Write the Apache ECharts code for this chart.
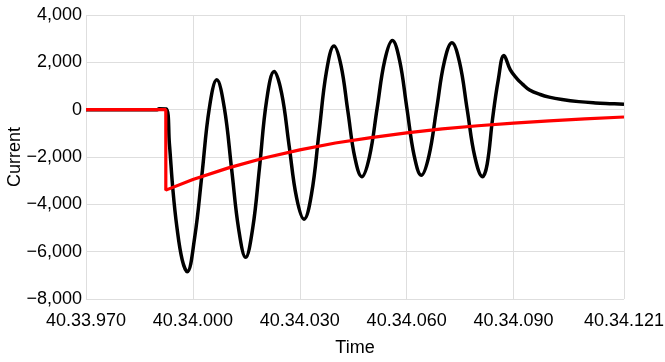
<!DOCTYPE html>
<html>
<head>
<meta charset="utf-8">
<script src="https://cdn.jsdelivr.net/npm/echarts@6/dist/echarts.min.js"></script>
<style>
html,body{margin:0;padding:0;background:#fff;}
#chart{width:665px;height:362px;}
</style>
</head>
<body>
<div id="chart"></div>
<script>
// Time in ms past 40.33.000 (970 -> 40.33.970, 1000 -> 40.34.000)
const timeTicks = [970, 1000, 1030, 1060, 1090, 1121];
const timeTickLabels = ['40.33.970', '40.34.000', '40.34.030', '40.34.060', '40.34.090', '40.34.121'];

const blackTime = [970, 990, 990.5, 992.5, 993.4, 994.4, 995.5, 997.0, 998.4, 1000.5, 1002.5, 1004.6, 1006.7,
  1008.8, 1010.9, 1012.85, 1014.8, 1016.8, 1018.7, 1020.7, 1022.8, 1024.9, 1027.0, 1029.1, 1031.2,
  1033.3, 1035.4, 1037.5, 1039.6, 1041.55, 1043.5, 1045.45, 1047.4, 1049.55, 1051.7, 1053.85, 1056.0,
  1058.0, 1060.05, 1062.1, 1064.1, 1066.25, 1068.4, 1070.55, 1072.7, 1074.85, 1077.0, 1079.15, 1081.3,
  1082.6, 1084.1, 1085.7, 1087.3, 1089.1, 1091.0, 1092.5, 1094.5, 1097.5, 1100, 1103.6, 1108.3, 1113, 1117, 1121];
const blackCurrent = [0, 0, 40, 30, -1420, -3400, -4950, -6350, -6850, -5400, -2800, 50, 1260,
  100, -2550, -5050, -6240, -5000, -2450, 400, 1610, 700, -1510, -3720, -4630,
  -3560, -970, 1620, 2690, 1880, -70, -2020, -2830, -1990, 45, 2080, 2920,
  2090, 75, -1940, -2770, -1950, 30, 2010, 2830, 2000, 0, -2000, -2830,
  -2300, -400, 1250, 2290, 1680, 1300, 1080, 830, 640, 530, 430, 340, 285, 255, 230];

const redTime = [970, 992.4, 992.4, 1000, 1010, 1020, 1030, 1040, 1050, 1060, 1070, 1080, 1090, 1100, 1110, 1121];
const redCurrent = [0, 0, -3400, -2950, -2460, -2040, -1700, -1410, -1180, -980, -815, -680, -565, -470, -392, -310];

function pairs(xs, ys) { return xs.map((x, i) => [x, ys[i]]); }

const chart = echarts.init(document.getElementById('chart'), null, {renderer: 'canvas'});
const font = 'Liberation Sans, Arial, sans-serif';
const gridColor = '#dedede';

chart.setOption({
  animation: false,
  grid: {left: 86, right: 41, top: 15, bottom: 63, containLabel: false, outerBoundsMode: 'none'},
  xAxis: {
    type: 'value',
    min: 970,
    max: 1121,
    name: 'Time',
    nameLocation: 'middle',
    nameGap: 40,
    nameMoveOverlap: false,
    nameTextStyle: {color: '#000', fontSize: 18, fontFamily: font},
    axisLine: {show: false},
    axisTick: {show: false, customValues: timeTicks},
    axisLabel: {
      customValues: timeTicks,
      color: '#000', fontSize: 18, fontFamily: font, margin: 13,
      formatter: v => { const i = timeTicks.indexOf(v); return i >= 0 ? timeTickLabels[i] : ''; }
    },
    splitLine: {show: true, lineStyle: {color: gridColor, width: 1}}
  },
  yAxis: {
    type: 'value',
    min: -8000,
    max: 4000,
    interval: 2000,
    name: 'Current',
    nameLocation: 'middle',
    nameGap: 62,
    nameMoveOverlap: false,
    nameTextStyle: {color: '#000', fontSize: 18, fontFamily: font},
    axisLine: {show: false},
    axisTick: {show: false},
    axisLabel: {
      color: '#000', fontSize: 18, fontFamily: font, margin: 4,
      formatter: v => (v < 0 ? '\u2212' : '') + Math.abs(v).toLocaleString('en-US')
    },
    splitLine: {show: true, lineStyle: {color: gridColor, width: 1}}
  },
  series: [
    {
      type: 'line',
      data: pairs(blackTime, blackCurrent),
      showSymbol: false,
      smooth: 0.4,
      lineStyle: {color: '#000', width: 3.5},
      z: 2
    },
    {
      type: 'line',
      data: pairs(redTime, redCurrent),
      showSymbol: false,
      smooth: false,
      lineStyle: {color: '#ff0000', width: 3.2},
      z: 3
    }
  ]
});
</script>
</body>
</html>
